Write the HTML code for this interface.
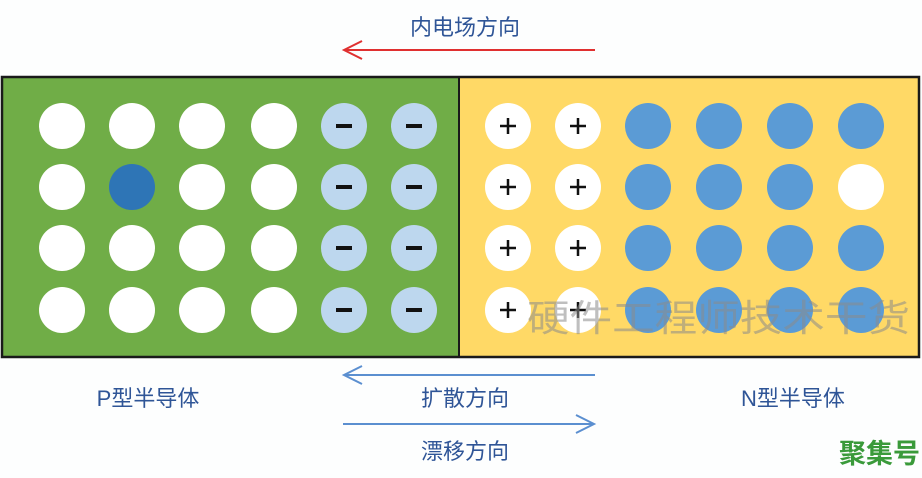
<!DOCTYPE html>
<html><head><meta charset="utf-8"><style>
html,body{margin:0;padding:0;background:#fff;}
svg{display:block;}
text{font-family:"Liberation Sans","Noto Sans CJK SC",sans-serif;}
</style></head><body>
<svg width="922" height="478" viewBox="0 0 922 478" xmlns="http://www.w3.org/2000/svg">
<rect x="0" y="0" width="922" height="478" fill="#fdfefe"/>
<!-- top label & red arrow -->
<text x="465" y="35" font-size="22" fill="#2f5597" text-anchor="middle">内电场方向</text>
<line x1="595" y1="50" x2="345" y2="50" stroke="#e03030" stroke-width="2"/>
<polyline points="362,41 344,50 362,59" fill="none" stroke="#e03030" stroke-width="2"/>
<!-- boxes -->
<rect x="2" y="77" width="457" height="280" fill="#70ad47"/>
<rect x="459" y="77" width="460" height="280" fill="#ffd966"/>
<rect x="2" y="77" width="917" height="280" fill="none" stroke="#1a1a1a" stroke-width="2.5"/>
<line x1="459" y1="77" x2="459" y2="357" stroke="#1a1a1a" stroke-width="2"/>
<g id="circles">
<!-- P side -->
<g fill="#fff">
<circle cx="62" cy="126" r="23"/><circle cx="132" cy="126" r="23"/><circle cx="202" cy="126" r="23"/><circle cx="274" cy="126" r="23"/>
<circle cx="62" cy="187" r="23"/><circle cx="202" cy="187" r="23"/><circle cx="274" cy="187" r="23"/>
<circle cx="62" cy="248" r="23"/><circle cx="132" cy="248" r="23"/><circle cx="202" cy="248" r="23"/><circle cx="274" cy="248" r="23"/>
<circle cx="62" cy="310" r="23"/><circle cx="132" cy="310" r="23"/><circle cx="202" cy="310" r="23"/><circle cx="274" cy="310" r="23"/>
</g>
<circle cx="132" cy="187" r="23" fill="#2e75b6"/>
<g fill="#bdd7ee">
<circle cx="344" cy="126" r="23"/><circle cx="414" cy="126" r="23"/>
<circle cx="344" cy="187" r="23"/><circle cx="414" cy="187" r="23"/>
<circle cx="344" cy="248" r="23"/><circle cx="414" cy="248" r="23"/>
<circle cx="344" cy="310" r="23"/><circle cx="414" cy="310" r="23"/>
</g>
<g stroke="#111" stroke-width="4">
<line x1="336" y1="126" x2="352" y2="126"/><line x1="406" y1="126" x2="422" y2="126"/>
<line x1="336" y1="187" x2="352" y2="187"/><line x1="406" y1="187" x2="422" y2="187"/>
<line x1="336" y1="248" x2="352" y2="248"/><line x1="406" y1="248" x2="422" y2="248"/>
<line x1="336" y1="310" x2="352" y2="310"/><line x1="406" y1="310" x2="422" y2="310"/>
</g>
<!-- N side -->
<g fill="#fff">
<circle cx="508" cy="126" r="23"/><circle cx="578" cy="126" r="23"/>
<circle cx="508" cy="187" r="23"/><circle cx="578" cy="187" r="23"/>
<circle cx="508" cy="248" r="23"/><circle cx="578" cy="248" r="23"/>
<circle cx="508" cy="310" r="23"/><circle cx="578" cy="310" r="23"/>
<circle cx="861" cy="187" r="23"/>
</g>
<g stroke="#111" stroke-width="2.5">
<path d="M500 126h16M508 118v16M570 126h16M578 118v16"/>
<path d="M500 187h16M508 179v16M570 187h16M578 179v16"/>
<path d="M500 248h16M508 240v16M570 248h16M578 240v16"/>
<path d="M500 310h16M508 302v16M570 310h16M578 302v16"/>
</g>
<g fill="#5b9bd5">
<circle cx="648" cy="126" r="23"/><circle cx="719" cy="126" r="23"/><circle cx="790" cy="126" r="23"/><circle cx="861" cy="126" r="23"/>
<circle cx="648" cy="187" r="23"/><circle cx="719" cy="187" r="23"/><circle cx="790" cy="187" r="23"/>
<circle cx="648" cy="248" r="23"/><circle cx="719" cy="248" r="23"/><circle cx="790" cy="248" r="23"/><circle cx="861" cy="248" r="23"/>
<circle cx="648" cy="310" r="23"/><circle cx="719" cy="310" r="23"/><circle cx="790" cy="310" r="23"/><circle cx="861" cy="310" r="23"/>
</g>
</g>
<!-- watermark -->
<text x="527" y="331" font-size="37" fill="#8a8a8a" fill-opacity="0.55" textLength="383" lengthAdjust="spacingAndGlyphs">硬件工程师技术干货</text>
<!-- bottom arrows -->
<line x1="595" y1="375" x2="345" y2="375" stroke="#5b8fd0" stroke-width="2"/>
<polyline points="362,366 344,375 362,384" fill="none" stroke="#5b8fd0" stroke-width="2"/>
<text x="465" y="406" font-size="22" fill="#2f5597" text-anchor="middle">扩散方向</text>
<line x1="343" y1="424" x2="593" y2="424" stroke="#5b8fd0" stroke-width="2"/>
<polyline points="576,415 594,424 576,433" fill="none" stroke="#5b8fd0" stroke-width="2"/>
<text x="465" y="459" font-size="22" fill="#2f5597" text-anchor="middle">漂移方向</text>
<text x="148" y="406" font-size="22" fill="#2f5597" text-anchor="middle">P型半导体</text>
<text x="793" y="406" font-size="22" fill="#2f5597" text-anchor="middle">N型半导体</text>
<text x="920" y="463" font-size="27" font-weight="bold" fill="#3a9a3a" text-anchor="end">聚集号</text>
</svg>
</body></html>
